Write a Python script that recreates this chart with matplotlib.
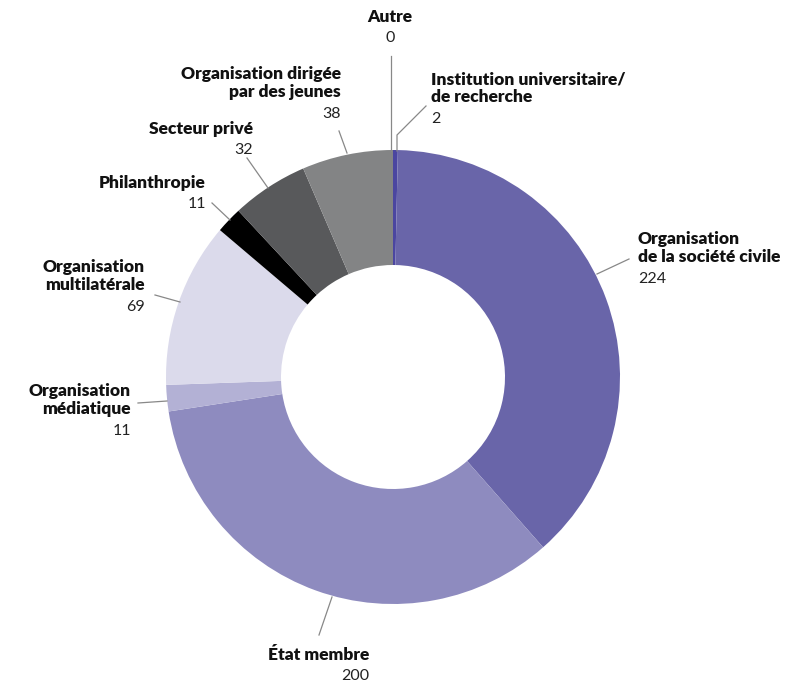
import matplotlib.pyplot as plt

# données (sens horaire depuis midi)
categories = ['Institution universitaire/\nde recherche', 'Organisation\nde la société civile',
              'État membre', 'Organisation\nmédiatique', 'Organisation\nmultilatérale',
              'Philanthropie', 'Secteur privé', 'Organisation dirigée\npar des jeunes', 'Autre']
valeurs = [2, 224, 200, 11, 69, 11, 32, 38, 0]
couleurs = ['#4b46a0', '#6965a9', '#8e8bbf', '#b3b1d5', '#dbdaeb',
            '#000000', '#58595b', '#838485', '#a0a0a0']

# position des étiquettes (x, y du nom, alignement) et traits de rappel, en pixels
etiquettes = [(431, 88, 'left'), (638, 248, 'left'), (369, 655, 'right'),
              (131, 400, 'right'), (145, 276, 'right'), (206, 183, 'right'),
              (253, 129, 'right'), (341, 83, 'right'), (390, 17, 'center')]
traits = [[(426, 106), (397, 135), (397, 151)], [(597, 274), (629, 259)],
          [(332, 597), (319, 635)], [(138, 403), (167, 401)],
          [(155, 295), (180, 302)], [(212, 203), (230, 220)],
          [(247, 158), (268, 188)], [(339, 131), (347, 153)],
          [(391, 56), (391, 151)]]

plt.rcParams['font.family'] = ['Lato', 'DejaVu Sans']

fig = plt.figure(figsize=(7.91, 6.84), dpi=100)
ax = fig.add_axes([0, 0, 1, 1])

ax.pie(valeurs, colors=couleurs, startangle=90, counterclock=False,
       center=(393, -377), radius=227, frame=True,
       wedgeprops=dict(width=115, linewidth=0))
ax.set_xlim(0, 791)
ax.set_ylim(-684, 0)
ax.set_aspect('equal')
ax.axis('off')

for (x, y, ha), nom, val, trait in zip(etiquettes, categories, valeurs, traits):
    nb = nom.count('\n') + 1
    ax.text(x, -y, nom, ha=ha, va='center', fontsize=12.5, fontweight='heavy',
            color='#111111', linespacing=1.12, multialignment=ha)
    yv = y + 20.5 * nb - (10 if nb == 2 else 0)
    ax.text(x, -yv, str(val), ha=ha, va='center', fontsize=11.5, color='#222222')
    xs = [p[0] for p in trait]
    ys = [-p[1] for p in trait]
    ax.plot(xs, ys, color='#888888', lw=0.9)

fig.savefig('out.png', dpi=100)
